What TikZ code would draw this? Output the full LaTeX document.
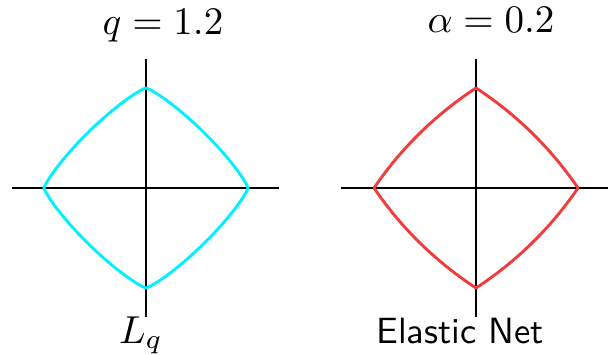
\documentclass[tikz,border=0pt]{standalone}
\definecolor{lqcol}{RGB}{0,240,255}
\definecolor{encol}{RGB}{240,60,60}
\tikzset{
  axisline/.style={line width=1.6pt, black},
  ballline/.style={line width=2.9pt, line join=round},
  lab/.style={anchor=base, inner sep=0pt, scale=3.9},
  sflab/.style={anchor=base, inner sep=0pt, scale=3.65, font=\sffamily}
}
\begin{document}
\begin{tikzpicture}[x=1pt,y=1pt]
\useasboundingbox (0,0) rectangle (609,354);
% left panel
\begin{scope}[shift={(146,166)}]
  \draw[axisline] (-134,0) -- (133,0);
  \draw[axisline] (0,-129) -- (0,129);
  \begin{scope}[x=102pt,y=100pt]
    \draw[ballline, lqcol] plot[domain=0:360, samples=361, smooth]
      ({sign(cos(\x))*pow(abs(cos(\x)),1.6667)},{sign(sin(\x))*pow(abs(sin(\x)),1.6667)}) -- cycle;
  \end{scope}
\end{scope}
% right panel
\begin{scope}[shift={(476,166)}]
  \draw[axisline] (-135,0) -- (132,0);
  \draw[axisline] (0,-129) -- (0,129);
  \begin{scope}[x=102pt,y=100pt]
    \draw[ballline, encol] (1,0)
      arc[start angle=33.69, end angle=56.31, radius=3.6056]
      arc[start angle=123.69, end angle=146.31, radius=3.6056]
      arc[start angle=213.69, end angle=236.31, radius=3.6056]
      arc[start angle=303.69, end angle=326.31, radius=3.6056] -- cycle;
  \end{scope}
\end{scope}
\node[lab] (t1) at (163,319) {$q=1.2$};
\node[lab] (t2) at (491,321) {$\alpha=0.2$};
\node[lab] (b1) at (141,11) {$L_q$};
\node[sflab] (b2) at (460,11) {Elastic Net};
\end{tikzpicture}
\end{document}
